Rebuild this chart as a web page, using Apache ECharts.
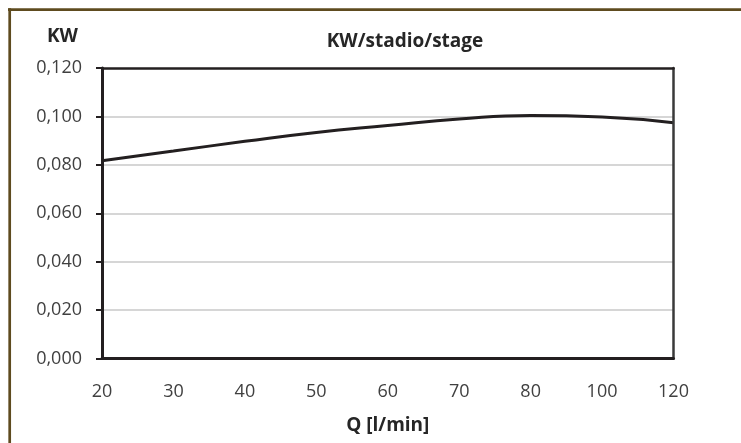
<!DOCTYPE html>
<html>
<head>
<meta charset="utf-8">
<script src="https://cdn.jsdelivr.net/npm/echarts@6/dist/echarts.min.js"></script>
<style>
html,body{margin:0;padding:0;background:#fff;}
#c{width:741px;height:443px;}
</style>
</head>
<body>
<div id="c"></div>
<script>
const categories = ['20','30','40','50','60','70','80','100','120'];
const kwValues = [0.0817, 0.0857, 0.0897, 0.0934, 0.0962, 0.0989, 0.1004, 0.0998, 0.0974];
const yTicks = [0, 0.02, 0.04, 0.06, 0.08, 0.10, 0.12];
const titleText = 'KW/stadio/stage';
const yName = 'KW';
const xName = 'Q [l/min]';

const FONT = '"Open Sans", "Noto Sans", sans-serif';
const chart = echarts.init(document.getElementById('c'), null, {renderer:'canvas'});
chart.setOption({
  animation: false,
  backgroundColor: '#ffffff',
  title: {
    text: titleText,
    left: 400, top: 27, textAlign: 'center',
    textStyle: {fontFamily: FONT, fontSize: 19, fontWeight: 'bold', color: '#262626'}
  },
  graphic: [
    {type:'line', shape:{x1:8, y1:9.7, x2:741, y2:9.7}, style:{stroke:'#5E4B1F', lineWidth:2.7}},
    {type:'line', shape:{x1:9.7, y1:8.3, x2:9.7, y2:443}, style:{stroke:'#5E4B1F', lineWidth:2.7}},
    {type:'text', left: 47, top: 27, style:{text: yName, font: 'bold 19px ' + FONT, fill:'#262626'}}
  ],
  grid: {left: 102, right: 67.5, top: 68, bottom: 84.5, show: false, containLabel: false},
  xAxis: [{
    type: 'category', data: categories, boundaryGap: false,
    name: xName, nameLocation: 'middle', nameGap: 58,
    nameTextStyle: {fontFamily: FONT, fontSize: 19, fontWeight: 'bold', color: '#262626'},
    axisLine: {lineStyle: {color: '#231f20', width: 3}},
    axisTick: {show: false},
    axisLabel: {fontFamily: FONT, fontSize: 18, color: '#404040', margin: 24},
    splitLine: {show: false},
    z: 10
  }, {
    type: 'category', data: categories, boundaryGap: false, position: 'top',
    axisLine: {show: true, onZero: false, lineStyle: {color: '#231f20', width: 2.5}},
    axisTick: {show: false}, axisLabel: {show: false}, splitLine: {show: false},
    z: 10
  }],
  yAxis: [{
    type: 'value', min: 0, max: 0.12, interval: 0.02,
    axisLine: {show: true, lineStyle: {color: '#231f20', width: 3}},
    axisTick: {show: true, length: 6, lineStyle: {color: '#231f20', width: 2}},
    axisLabel: {fontFamily: FONT, fontSize: 18, color: '#404040', margin: 20,
      formatter: v => v.toFixed(3).replace('.', ',')},
    splitLine: {show: true, showMaxLine: false, showMinLine: false, lineStyle: {color: '#c8c8c8', width: 1.5}},
    z: 1
  }, {
    type: 'value', min: 0, max: 0.12, interval: 0.02, position: 'right',
    axisLine: {show: true, onZero: false, lineStyle: {color: '#3a3a3a', width: 2.5}},
    axisTick: {show: false}, axisLabel: {show: false}, splitLine: {show: false},
    z: 10
  }],
  series: [{
    type: 'line', data: kwValues, smooth: true, symbol: 'none', xAxisIndex: 0, yAxisIndex: 0,
    lineStyle: {color: '#231f20', width: 3}
  }]
});
</script>
</body>
</html>
